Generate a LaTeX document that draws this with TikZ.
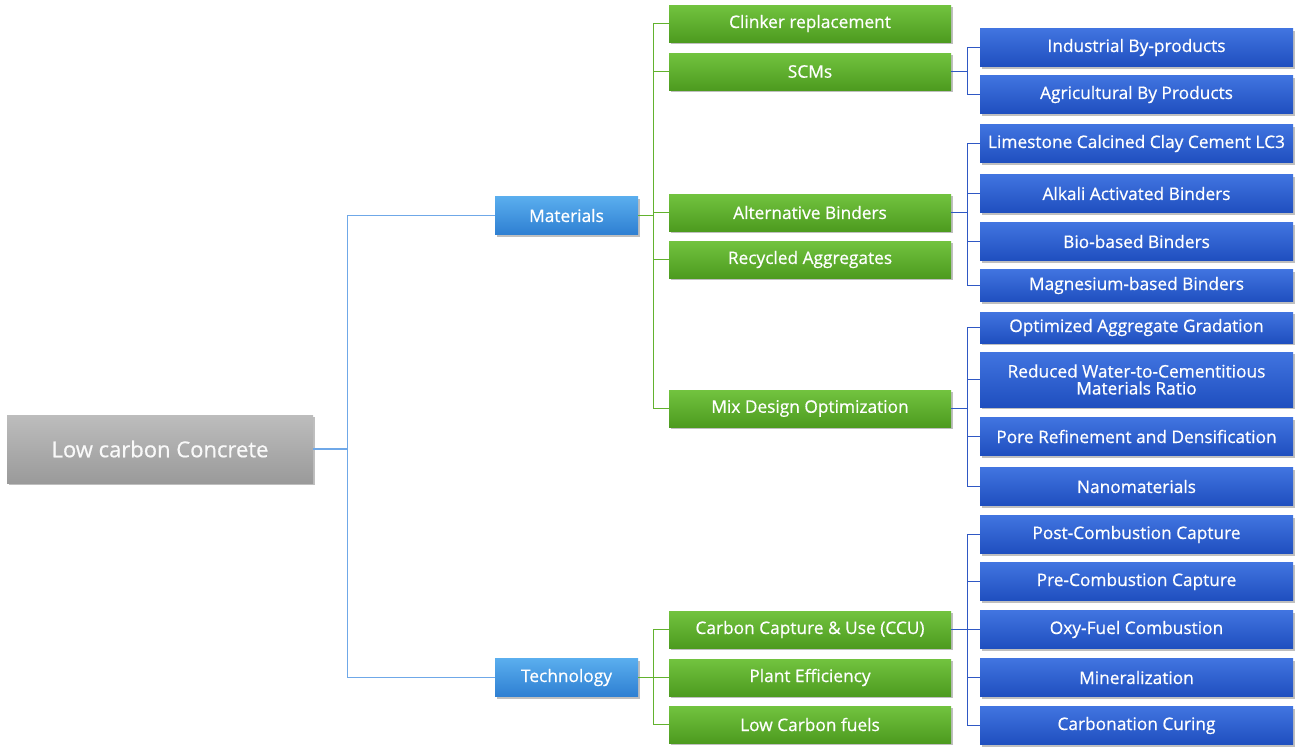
\documentclass[tikz,border=0pt]{standalone}
\usepackage{fontspec}
\setmainfont{Open Sans}
\newfontfamily\boxfont{Open Sans}[FakeBold=0.6]
\usetikzlibrary{shadows}
\definecolor{grayT}{HTML}{BDBDBD}
\definecolor{grayB}{HTML}{9A9A9A}
\definecolor{lbT}{HTML}{5AAEEE}
\definecolor{lbB}{HTML}{2E7FD2}
\definecolor{grT}{HTML}{72C33F}
\definecolor{grB}{HTML}{4D9B1F}
\definecolor{blT}{HTML}{4174E0}
\definecolor{blB}{HTML}{1F4FBF}
\definecolor{lineRoot}{HTML}{6FA8E8}
\definecolor{lineGreen}{HTML}{62B22E}
\definecolor{lineBlue}{HTML}{2F58C4}
\tikzset{
  boxbase/.style={rectangle, inner sep=0pt, align=center, text=white,
    drop shadow={shadow xshift=1.5pt, shadow yshift=-2pt, opacity=0.25, fill=black}},
  rootbox/.style={boxbase, minimum width=306pt, minimum height=68pt,
    top color=grayT, bottom color=grayB, text=white!95!gray, font=\boxfont\fontsize{22}{26}\selectfont},
  catbox/.style={boxbase, minimum width=143pt, minimum height=38pt,
    top color=lbT, bottom color=lbB, font=\boxfont\fontsize{17.3}{20}\selectfont},
  subbox/.style={boxbase, minimum width=282pt, minimum height=37pt,
    top color=grT, bottom color=grB, font=\boxfont\fontsize{17.3}{20}\selectfont},
  leafbox/.style={boxbase, minimum width=313pt, minimum height=38pt,
    top color=blT, bottom color=blB, font=\boxfont\fontsize{17.3}{20}\selectfont},
  rootline/.style={draw=lineRoot, line width=1.3pt},
  greenline/.style={draw=lineGreen, line width=1.3pt},
  blueline/.style={draw=lineBlue, line width=1.3pt},
}
\begin{document}
\begin{tikzpicture}[x=1pt, y=-1pt]
\useasboundingbox (0,0) rectangle (1300,750);
% root and categories
\node[rootbox] (root) at (160,449) {Low carbon Concrete};
\node[catbox] (mat) at (566.5,215.5) {Materials};
\node[catbox] (tech) at (566.5,677.5) {Technology};
% green
\node[subbox] (clk) at (810,23.5) {Clinker replacement};
\node[subbox] (scm) at (810,71.5) {SCMs};
\node[subbox] (alt) at (810,212.5) {Alternative Binders};
\node[subbox] (rec) at (810,259.5) {Recycled Aggregates};
\node[subbox] (mix) at (810,408.5) {Mix Design Optimization};
\node[subbox] (ccu) at (810,629.5) {Carbon Capture \& Use (CCU)};
\node[subbox] (pla) at (810,677.5) {Plant Efficiency};
\node[subbox] (lcf) at (810,724.5) {Low Carbon fuels};
% blue leaves
\node[leafbox] (ind) at (1136.5,47.5) {Industrial By-products};
\node[leafbox] (agr) at (1136.5,94.5) {Agricultural By Products};
\node[leafbox] (lim) at (1136.5,143.5) {Limestone Calcined Clay Cement LC3};
\node[leafbox] (alk) at (1136.5,193.5) {Alkali Activated Binders};
\node[leafbox] (bio) at (1136.5,241.5) {Bio-based Binders};
\node[leafbox, minimum height=32pt] (mag) at (1136.5,285.5) {Magnesium-based Binders};
\node[leafbox, minimum height=31pt] (opt) at (1136.5,327.5) {Optimized Aggregate Gradation};
\node[leafbox, minimum height=55pt] (red) at (1136.5,379.5) {Reduced Water-to-Cementitious\\[-3pt]Materials Ratio};
\node[leafbox] (por) at (1136.5,436.5) {Pore Refinement and Densification};
\node[leafbox] (nan) at (1136.5,486.5) {Nanomaterials};
\node[leafbox] (pos) at (1136.5,534.5) {Post-Combustion Capture};
\node[leafbox] (pre) at (1136.5,581.5) {Pre-Combustion Capture};
\node[leafbox] (oxy) at (1136.5,629.5) {Oxy-Fuel Combustion};
\node[leafbox] (min) at (1136.5,677.5) {Mineralization};
\node[leafbox] (car) at (1136.5,725.5) {Carbonation Curing};
% root connectors
\draw[rootline] (root.east) -- ++(34.5,0) coordinate (rj);
\draw[rootline] (mat.west) -- (mat.west -| rj) -- (tech.west -| rj) -- (tech.west);
% materials connectors
\draw[greenline] (mat.east) -- ++(15.5,0) coordinate (mj);
\draw[greenline] (clk.west) -- (clk.west -| mj) -- (mix.west -| mj) -- (mix.west);
\foreach \c in {scm,alt,rec} \draw[greenline] (mj |- \c.west) -- (\c.west);
% technology connectors
\draw[greenline] (tech.east) -- ++(15.5,0) coordinate (tj);
\draw[greenline] (ccu.west) -- (ccu.west -| tj) -- (lcf.west -| tj) -- (lcf.west);
\draw[greenline] (tj |- pla.west) -- (pla.west);
% SCM leaves
\draw[blueline] (scm.east) -- ++(16.5,0) coordinate (sj);
\draw[blueline] (ind.west) -- (ind.west -| sj) -- (agr.west -| sj) -- (agr.west);
% binders
\draw[blueline] (alt.east) -- ++(16.5,0) coordinate (aj);
\draw[blueline] (lim.west) -- (lim.west -| aj) -- (mag.west -| aj) -- (mag.west);
\foreach \c in {alk,bio} \draw[blueline] (aj |- \c.west) -- (\c.west);
% mix design
\draw[blueline] (mix.east) -- ++(16.5,0) coordinate (xj);
\draw[blueline] (opt.west) -- (opt.west -| xj) -- (nan.west -| xj) -- (nan.west);
\foreach \c in {red,por} \draw[blueline] (xj |- \c.west) -- (\c.west);
% ccu
\draw[blueline] (ccu.east) -- ++(16.5,0) coordinate (cj);
\draw[blueline] (pos.west) -- (pos.west -| cj) -- (car.west -| cj) -- (car.west);
\foreach \c in {pre,oxy,min} \draw[blueline] (cj |- \c.west) -- (\c.west);
\end{tikzpicture}
\end{document}
